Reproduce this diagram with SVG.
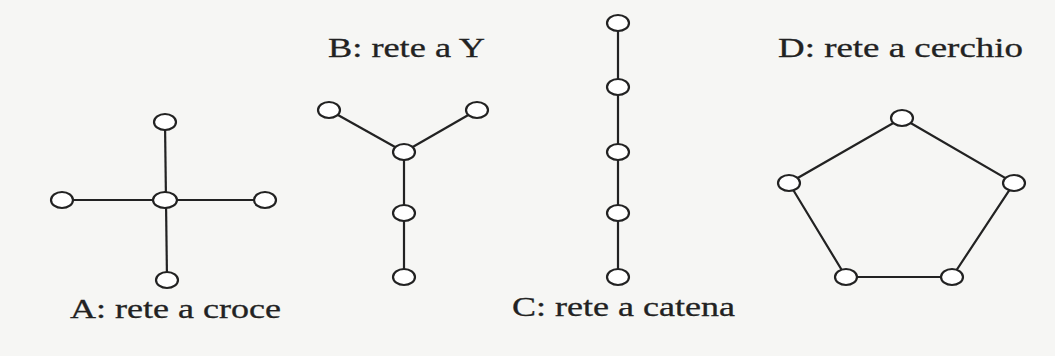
<svg xmlns="http://www.w3.org/2000/svg" width="1055" height="356" viewBox="0 0 1055 356">
<style>
.n{fill:#fff;stroke:#222;stroke-width:2.2}
.e{stroke:#222;stroke-width:2.2;fill:none}
.t{font-family:"Liberation Serif",serif;font-size:28px;fill:#222;stroke:#222;stroke-width:0.3}
</style>
<rect width="1055" height="356" fill="#f6f6f4"/>
<g id="connectors">
<line class="e" x1="165" y1="122" x2="167" y2="280"/>
<line class="e" x1="62" y1="200" x2="265" y2="200"/>
<line class="e" x1="329" y1="110" x2="404" y2="152"/>
<line class="e" x1="477" y1="110" x2="404" y2="152"/>
<line class="e" x1="404" y1="152" x2="404" y2="277"/>
<line class="e" x1="618" y1="23" x2="618" y2="277"/>
<polygon class="e" points="902,118 1014,183 952,277 846,277 789,183"/>
</g>
<g id="A">
<ellipse class="n" cx="165" cy="122" rx="11" ry="8"/>
<ellipse class="n" cx="62" cy="200" rx="11" ry="8"/>
<ellipse class="n" cx="165" cy="200" rx="12" ry="8"/>
<ellipse class="n" cx="265" cy="200" rx="11" ry="8"/>
<ellipse class="n" cx="167" cy="280" rx="11" ry="8"/>
<text class="t" x="70" y="318" textLength="211" lengthAdjust="spacingAndGlyphs">A: rete a croce</text>
</g>
<g id="B">
<ellipse class="n" cx="329" cy="110" rx="11" ry="8"/>
<ellipse class="n" cx="477" cy="110" rx="11" ry="8"/>
<ellipse class="n" cx="404" cy="152" rx="11" ry="8"/>
<ellipse class="n" cx="404" cy="213" rx="11" ry="8"/>
<ellipse class="n" cx="404" cy="277" rx="11" ry="8"/>
<text class="t" x="328" y="57" textLength="157" lengthAdjust="spacingAndGlyphs">B: rete a Y</text>
</g>
<g id="C">
<ellipse class="n" cx="618" cy="23" rx="11" ry="8"/>
<ellipse class="n" cx="618" cy="87" rx="11" ry="8"/>
<ellipse class="n" cx="618" cy="152" rx="11" ry="8"/>
<ellipse class="n" cx="618" cy="213" rx="11" ry="8"/>
<ellipse class="n" cx="618" cy="277" rx="11" ry="8"/>
<text class="t" x="512" y="316" textLength="223" lengthAdjust="spacingAndGlyphs">C: rete a catena</text>
</g>
<g id="D">
<ellipse class="n" cx="902" cy="118" rx="11" ry="8"/>
<ellipse class="n" cx="789" cy="183" rx="11" ry="8"/>
<ellipse class="n" cx="1014" cy="183" rx="11" ry="8"/>
<ellipse class="n" cx="846" cy="277" rx="11" ry="8"/>
<ellipse class="n" cx="952" cy="277" rx="11" ry="8"/>
<text class="t" x="778" y="57" textLength="245" lengthAdjust="spacingAndGlyphs">D: rete a cerchio</text>
</g>
</svg>
